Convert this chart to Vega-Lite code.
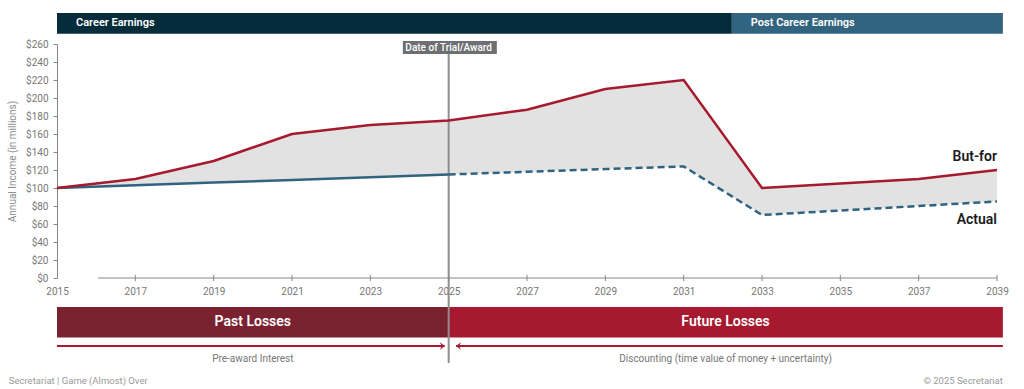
{
  "$schema": "https://vega.github.io/schema/vega-lite/v6.json",
  "width": 940,
  "height": 234,
  "autosize": {"type": "none"},
  "padding": {"left": 57, "top": 44, "right": 27, "bottom": 111},
  "background": "#ffffff",
  "config": {
    "font": "Roboto",
    "view": {"stroke": null}
  },
  "datasets": {
    "income": [
      {"year": 2015, "butfor": 100, "actual": 100},
      {"year": 2017, "butfor": 110, "actual": 103},
      {"year": 2019, "butfor": 130, "actual": 106},
      {"year": 2021, "butfor": 160, "actual": 109},
      {"year": 2023, "butfor": 170, "actual": 112},
      {"year": 2025, "butfor": 175, "actual": 115},
      {"year": 2027, "butfor": 187, "actual": 118},
      {"year": 2029, "butfor": 210, "actual": 121},
      {"year": 2031, "butfor": 220, "actual": 124},
      {"year": 2033, "butfor": 100, "actual": 70},
      {"year": 2035, "butfor": 105, "actual": 75},
      {"year": 2037, "butfor": 110, "actual": 80},
      {"year": 2039, "butfor": 120, "actual": 85}
    ],
    "phases": [
      {"phase": "Career Earnings", "start": 2015, "end": 2032.23},
      {"phase": "Post Career Earnings", "start": 2032.23, "end": 2039.15}
    ],
    "losses": [
      {"period": "Past Losses", "start": 2015, "end": 2025, "mid": 2020},
      {"period": "Future Losses", "start": 2025, "end": 2039.15, "mid": 2032.07}
    ],
    "adjustments": [
      {"label": "Pre-award Interest", "from": 2015, "to": 2024.9, "mid": 2020, "dir": "right"},
      {"label": "Discounting (time value of money + uncertainty)", "from": 2039.15, "to": 2025.19, "mid": 2032.07, "dir": "left"}
    ],
    "events": [
      {"event": "Date of Trial/Award", "year": 2025}
    ]
  },
  "layer": [
    {
      "data": {"name": "income"},
      "mark": {"type": "area", "color": "#E2E2E2", "opacity": 1},
      "encoding": {
        "x": {"field": "year", "type": "quantitative", "scale": {"domain": [2015, 2039], "nice": false, "zero": false}, "axis": {"title": null, "values": [2015, 2017, 2019, 2021, 2023, 2025, 2027, 2029, 2031, 2033, 2035, 2037, 2039], "tickCount": 30, "format": "d", "labelFlush": false, "labelOverlap": false, "labelColor": "#777777", "labelFontSize": 10, "labelPadding": 8, "ticks": false, "domain": false, "grid": false}},
        "y": {"field": "butfor", "type": "quantitative", "scale": {"domain": [0, 260], "nice": false}, "axis": {"title": "Annual Income (in millions)", "values": [0, 20, 40, 60, 80, 100, 120, 140, 160, 180, 200, 220, 240, 260], "tickCount": 30, "format": "$.0f", "labelOverlap": false, "labelColor": "#777777", "labelFontSize": 10, "labelPadding": 5, "tickSize": 4, "tickColor": "#888888", "domainColor": "#888888", "grid": false, "titleColor": "#8a8a8a", "titleFontSize": 10, "titleFontWeight": "normal", "titlePadding": 8}},
        "y2": {"field": "actual"}
      }
    },
    {
      "data": {"name": "phases"},
      "mark": {"type": "rect"},
      "encoding": {
        "x": {"field": "start", "type": "quantitative"},
        "x2": {"field": "end"},
        "y": {"datum": 294.5, "type": "quantitative"},
        "y2": {"datum": 271.5},
        "color": {"field": "phase", "type": "nominal", "scale": {"domain": ["Career Earnings", "Post Career Earnings"], "range": ["#052C3A", "#33647F"]}, "legend": null}
      }
    },
    {
      "data": {"name": "phases"},
      "mark": {"type": "text", "align": "left", "baseline": "middle", "dx": 19, "fontSize": 11, "fontWeight": 600, "color": "#ffffff"},
      "encoding": {
        "x": {"field": "start", "type": "quantitative"},
        "y": {"datum": 282.8, "type": "quantitative"},
        "text": {"field": "phase"}
      }
    },
    {
      "data": {"name": "losses"},
      "mark": {"type": "rect"},
      "encoding": {
        "x": {"field": "start", "type": "quantitative"},
        "x2": {"field": "end"},
        "y": {"datum": -32.2, "type": "quantitative"},
        "y2": {"datum": -66},
        "fill": {"field": "period", "type": "nominal", "scale": {"domain": ["Past Losses", "Future Losses"], "range": ["#7B2230", "#A6192E"]}, "legend": null}
      }
    },
    {
      "data": {"name": "losses"},
      "mark": {"type": "text", "align": "center", "baseline": "middle", "fontSize": 14, "fontWeight": 600, "color": "#ffffff"},
      "encoding": {
        "x": {"field": "mid", "type": "quantitative"},
        "y": {"datum": -49.4, "type": "quantitative"},
        "text": {"field": "period"}
      }
    },
    {
      "data": {"name": "events"},
      "mark": {"type": "rule", "color": "#8E8E8E", "strokeWidth": 2},
      "encoding": {
        "x": {"field": "year", "type": "quantitative"},
        "y": {"datum": 249, "type": "quantitative"},
        "y2": {"datum": -94.4}
      }
    },
    {
      "data": {"name": "events"},
      "mark": {"type": "rect", "color": "#6E6F72"},
      "encoding": {
        "x": {"datum": 2023.83, "type": "quantitative"},
        "x2": {"datum": 2026.23},
        "y": {"datum": 263.3, "type": "quantitative"},
        "y2": {"datum": 248.9}
      }
    },
    {
      "data": {"name": "events"},
      "mark": {"type": "text", "align": "center", "baseline": "middle", "fontSize": 10, "fontWeight": 500, "color": "#ffffff"},
      "encoding": {
        "x": {"field": "year", "type": "quantitative"},
        "y": {"datum": 256.1, "type": "quantitative"},
        "text": {"field": "event"}
      }
    },
    {
      "data": {"name": "income"},
      "transform": [{"filter": "datum.year <= 2025"}],
      "mark": {"type": "line", "color": "#2F6380", "strokeWidth": 2.5},
      "encoding": {
        "x": {"field": "year", "type": "quantitative"},
        "y": {"field": "actual", "type": "quantitative"}
      }
    },
    {
      "data": {"name": "income"},
      "transform": [{"filter": "datum.year >= 2025"}],
      "mark": {"type": "line", "color": "#2F6380", "strokeWidth": 2.5, "strokeDash": [7, 4]},
      "encoding": {
        "x": {"field": "year", "type": "quantitative"},
        "y": {"field": "actual", "type": "quantitative"}
      }
    },
    {
      "data": {"name": "income"},
      "mark": {"type": "line", "color": "#A6192E", "strokeWidth": 2.5},
      "encoding": {
        "x": {"field": "year", "type": "quantitative"},
        "y": {"field": "butfor", "type": "quantitative"}
      }
    },
    {
      "data": {"name": "income"},
      "transform": [{"filter": "datum.year == 2039"}],
      "mark": {"type": "text", "text": "But-for", "align": "right", "baseline": "middle", "dy": -13, "fontSize": 14, "fontWeight": 600, "color": "#1a1a1a"},
      "encoding": {
        "x": {"field": "year", "type": "quantitative"},
        "y": {"field": "butfor", "type": "quantitative"}
      }
    },
    {
      "data": {"name": "income"},
      "transform": [{"filter": "datum.year == 2039"}],
      "mark": {"type": "text", "text": "Actual", "align": "right", "baseline": "middle", "dy": 18, "fontSize": 14, "fontWeight": 600, "color": "#1a1a1a"},
      "encoding": {
        "x": {"field": "year", "type": "quantitative"},
        "y": {"field": "actual", "type": "quantitative"}
      }
    },
    {
      "data": {"values": [{}]},
      "mark": {"type": "rule", "color": "#888888", "strokeWidth": 1},
      "encoding": {
        "x": {"datum": 2016.05, "type": "quantitative"},
        "x2": {"datum": 2039},
        "y": {"datum": 0, "type": "quantitative"}
      }
    },
    {
      "data": {"name": "income"},
      "transform": [{"filter": "datum.year > 2015"}],
      "mark": {"type": "rule", "color": "#888888", "strokeWidth": 1},
      "encoding": {
        "x": {"field": "year", "type": "quantitative"},
        "y": {"datum": 3.5, "type": "quantitative"},
        "y2": {"datum": -3.5}
      }
    },
    {
      "data": {"name": "adjustments"},
      "mark": {"type": "rule", "color": "#A6192E", "strokeWidth": 2},
      "encoding": {
        "x": {"field": "from", "type": "quantitative"},
        "x2": {"field": "to"},
        "y": {"datum": -75.6, "type": "quantitative"}
      }
    },
    {
      "data": {"name": "adjustments"},
      "mark": {"type": "point", "filled": true, "opacity": 1, "size": 100, "strokeWidth": 0},
      "encoding": {
        "x": {"field": "to", "type": "quantitative"},
        "y": {"datum": -75.6, "type": "quantitative"},
        "shape": {"field": "dir", "type": "nominal", "scale": {"domain": ["right", "left"], "range": ["M 0 0 L -1 -0.8 L -0.6 0 L -1 0.8 Z", "M 0 0 L 1 -0.8 L 0.6 0 L 1 0.8 Z"]}, "legend": null},
        "color": {"value": "#A6192E"}
      }
    },
    {
      "data": {"name": "adjustments"},
      "mark": {"type": "text", "align": "center", "baseline": "middle", "fontSize": 10, "color": "#777777"},
      "encoding": {
        "x": {"field": "mid", "type": "quantitative"},
        "y": {"datum": -90, "type": "quantitative"},
        "text": {"field": "label"}
      }
    },
    {
      "data": {"values": [{}]},
      "mark": {"type": "text", "text": "Secretariat | Game (Almost) Over", "align": "left", "baseline": "middle", "fontSize": 9.5, "color": "#9a9a9a"},
      "encoding": {
        "x": {"datum": 2013.77, "type": "quantitative"},
        "y": {"datum": -114, "type": "quantitative"}
      }
    },
    {
      "data": {"values": [{}]},
      "mark": {"type": "text", "text": "© 2025 Secretariat", "align": "right", "baseline": "middle", "fontSize": 9.5, "color": "#9a9a9a"},
      "encoding": {
        "x": {"datum": 2039.15, "type": "quantitative"},
        "y": {"datum": -114, "type": "quantitative"}
      }
    }
  ]
}
